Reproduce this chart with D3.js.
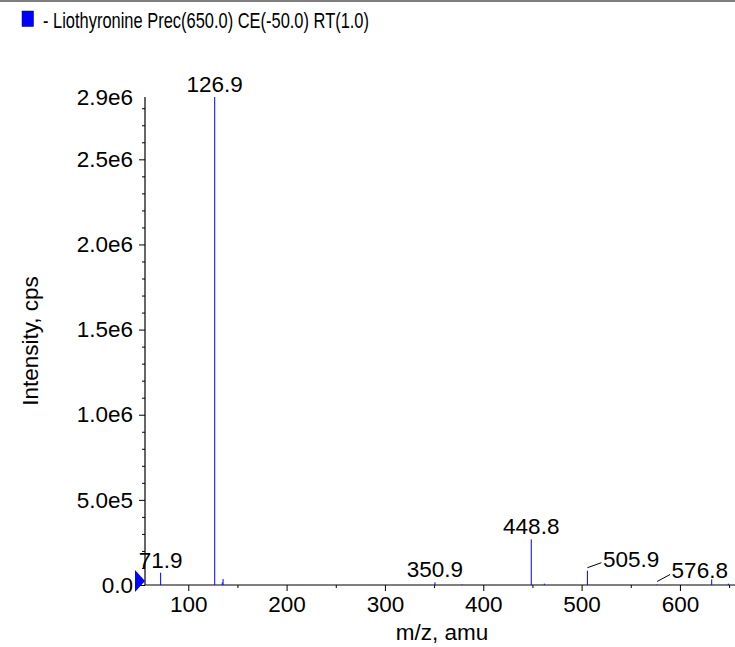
<!DOCTYPE html>
<html>
<head>
<meta charset="utf-8">
<script src="https://d3js.org/d3.v7.min.js"></script>
<style>
  html, body { margin: 0; padding: 0; background: #fff; }
  svg { display: block; font-family: "Liberation Sans", Arial, Helvetica, sans-serif; }
</style>
</head>
<body>
<svg id="chart" width="735" height="647"></svg>
<script>
// ---- data ----
const title = "- Liothyronine Prec(650.0) CE(-50.0) RT(1.0)";
const peakMz = [71.9, 126.9, 134.6, 135.4, 350.9, 378.6, 448.8, 462.1, 505.9, 576.8, 632.3, 649.2];
const peakIntensity = [72000, 2866000, 15000, 35000, 16000, 3000, 268000, 8000, 84000, 3000, 33000, 8000];
const labelMz = [71.9, 126.9, 350.9, 448.8, 505.9, 576.8];
const labelText = ["71.9", "126.9", "350.9", "448.8", "505.9", "576.8"];
const xMajorTicks = [100, 200, 300, 400, 500, 600];
const xMinorTicks = [150, 250, 350, 450, 550, 650];
const yMajorTicks = [0, 500000, 1000000, 1500000, 2000000, 2500000];
const yMajorLabels = ["0.0", "5.0e5", "1.0e6", "1.5e6", "2.0e6", "2.5e6"];
const yMinorTicks = d3.range(1, 29).map(i => i * 100000).filter(v => v % 500000 !== 0);
const yMax = 2866000;
const yMaxLabel = "2.9e6";
const xDomain = [56, 656];

(function () {
// ---- layout ----
const svg = d3.select("#chart");
const pLeft = 145, pRight = 735, pTop = 97, pBottom = 585;
const fs = 22.5;

const x = d3.scaleLinear().domain(xDomain).range([pLeft, pRight]);
const y = d3.scaleLinear().domain([0, yMax]).range([pBottom, pTop]);

// top border
svg.append("line").attr("x1", 0).attr("x2", 735).attr("y1", 1).attr("y2", 1)
  .attr("stroke", "#555").attr("stroke-width", 1.5);

// legend
svg.append("rect").attr("x", 22).attr("y", 11).attr("width", 11.5).attr("height", 15.5)
  .attr("fill", "#0000ff").attr("stroke", "#000066").attr("stroke-width", 0.5);
svg.append("text").attr("x", 43).attr("y", 27.5).attr("font-size", 22)
  .attr("textLength", 326).attr("lengthAdjust", "spacingAndGlyphs").text(title);

// x axis
const gx = svg.append("g").attr("transform", `translate(0,${pBottom})`);
gx.call(d3.axisBottom(x).tickValues(xMajorTicks).tickSize(6).tickPadding(5).tickFormat(d => String(d)))
  .call(g => g.select(".domain").remove());
gx.selectAll("text").attr("font-size", fs).attr("font-family", "Liberation Sans, Arial, sans-serif").attr("fill", "#000");
gx.selectAll("line").attr("stroke", "#000");
const gxm = svg.append("g").attr("transform", `translate(0,${pBottom})`);
gxm.call(d3.axisBottom(x).tickValues(xMinorTicks).tickSize(3).tickFormat(""))
  .call(g => g.select(".domain").remove());
gxm.selectAll("line").attr("stroke", "#000");
svg.append("line").attr("x1", pLeft).attr("x2", pRight).attr("y1", pBottom).attr("y2", pBottom)
  .attr("stroke", "#000").attr("stroke-width", 1.2);

// y axis
const gy = svg.append("g").attr("transform", `translate(${pLeft},0)`);
gy.call(d3.axisLeft(y).tickValues(yMajorTicks).tickSize(6).tickPadding(6)
  .tickFormat((d, i) => yMajorLabels[i]))
  .call(g => g.select(".domain").remove());
gy.selectAll("text").attr("font-size", fs).attr("font-family", "Liberation Sans, Arial, sans-serif").attr("fill", "#000");
gy.selectAll("line").attr("stroke", "#000");
const gym = svg.append("g").attr("transform", `translate(${pLeft},0)`);
gym.call(d3.axisLeft(y).tickValues(yMinorTicks).tickSize(3).tickFormat(""))
  .call(g => g.select(".domain").remove());
gym.selectAll("line").attr("stroke", "#000");
svg.append("line").attr("x1", pLeft).attr("x2", pLeft).attr("y1", pTop).attr("y2", pBottom)
  .attr("stroke", "#000").attr("stroke-width", 1.2);
svg.append("text").attr("x", pLeft - 12).attr("y", y(yMax) + 8).attr("text-anchor", "end")
  .attr("font-size", fs).text(yMaxLabel);

// zero marker triangle
svg.append("path")
  .attr("d", `M${pLeft - 10},${y(0) - 15} L${pLeft},${y(0) - 4} L${pLeft - 10},${y(0) + 7} Z`)
  .attr("fill", "#0000ff");

// axis titles
svg.append("text").attr("x", (pLeft + pRight) / 2 + 2).attr("y", 640).attr("text-anchor", "middle")
  .attr("font-size", fs).text("m/z, amu");
svg.append("text").attr("transform", `translate(38,${(pTop + pBottom) / 2}) rotate(-90)`)
  .attr("text-anchor", "middle").attr("font-size", fs).text("Intensity, cps");

// peaks
const peaks = peakMz.map((m, i) => ({ m, v: peakIntensity[i] }));
svg.append("g").selectAll("line").data(peaks).join("line")
  .attr("x1", d => x(d.m)).attr("x2", d => x(d.m))
  .attr("y1", y(0)).attr("y2", d => y(d.v))
  .attr("stroke", "#0000ff").attr("stroke-width", 1);

// peak labels
const leaders = { "505.9": [14, -5], "576.8": [13, -7] };
labelMz.forEach((m, i) => {
  const idx = peakMz.indexOf(m);
  const px = x(m), py = y(peakIntensity[idx]);
  const t = labelText[i];
  if (leaders[t]) {
    const [dx, dy] = leaders[t];
    const sx = px, sy = Math.min(py, y(0)) - 3;
    svg.append("line").attr("x1", sx).attr("y1", sy).attr("x2", sx + dx).attr("y2", sy + dy)
      .attr("stroke", "#000").attr("stroke-width", 1);
    svg.append("text").attr("x", sx + dx + 1.5).attr("y", sy + dy + 4)
      .attr("font-size", fs).text(t);
  } else {
    svg.append("text").attr("x", px).attr("y", py - 5).attr("text-anchor", "middle")
      .attr("font-size", fs).text(t);
  }
});
})();
</script>
</body>
</html>
